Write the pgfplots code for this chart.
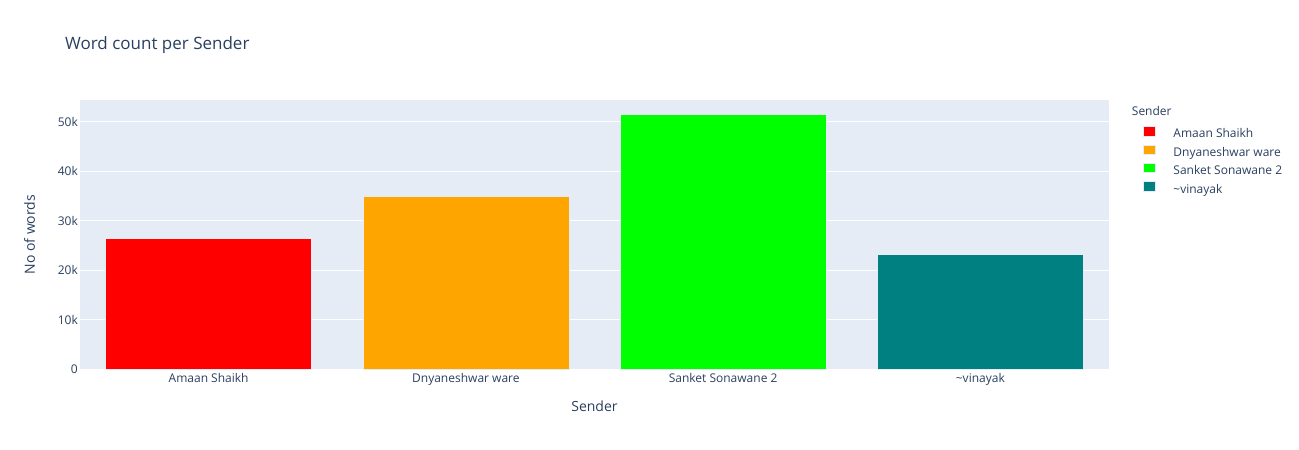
\documentclass[border=0pt]{standalone}
\usepackage{pgfplots}
\pgfplotsset{compat=1.18}
\usepackage{fontspec}
\setmainfont{Open Sans}
\definecolor{txt}{HTML}{2A3F5F}
\definecolor{bg}{HTML}{E5ECF6}
\definecolor{cA}{HTML}{FF0000}
\definecolor{cB}{HTML}{FFA500}
\definecolor{cC}{HTML}{00FF00}
\definecolor{cD}{HTML}{008080}
\begin{document}
\begin{tikzpicture}
\useasboundingbox (0,0) rectangle (1299bp,450bp);
\begin{axis}[
  at={(80bp,80.7bp)}, anchor=south west,
  scale only axis, width=1029bp, height=269.3bp,
  xmin=-0.5, xmax=3.5, ymin=0, ymax=54400,
  scaled y ticks=false,
  axis background/.style={fill=bg},
  axis line style={draw=none},
  major tick length=0pt,
  ymajorgrids, grid style={white, line width=1bp},
  xtick={0,1,2,3},
  xticklabels={Amaan Shaikh, Dnyaneshwar ware, Sanket Sonawane 2, \textasciitilde vinayak},
  ytick={0,10000,20000,30000,40000,50000},
  yticklabels={0,10k,20k,30k,40k,50k},
  ticklabel style={font=\fontsize{12bp}{14bp}\selectfont, text=txt, inner sep=0pt},
  xticklabel style={anchor=base, yshift=-13.5bp},
  yticklabel style={anchor=east, xshift=-2bp},
  xlabel={Sender}, ylabel={No of words},
  label style={font=\fontsize{14bp}{17bp}\selectfont, text=txt, inner sep=0pt},
  xlabel style={at={(axis description cs:0.5,-0.1375)}, anchor=center},
  ylabel style={at={(axis description cs:-0.0491,0.5)}, anchor=center},
  ybar, bar width=0.8,
  legend style={at={(axis description cs:1.0333,0.9033)}, anchor=north west,
    draw=none, fill=none, inner sep=0pt, row sep=3.6bp, column sep=17.5bp,
    font=\fontsize{12bp}{14bp}\selectfont, text=txt,
    nodes={inner sep=0pt, text height=9bp, text depth=3bp}},
  legend cell align=left,
  legend image code/.code={\fill[#1] (0bp,-1bp) rectangle (12bp,8.5bp);},
]
\addplot[fill=cA, draw=bg, line width=0.5bp, bar shift=0pt] coordinates {(0,26500)};
\addlegendentry{Amaan Shaikh}
\addplot[fill=cB, draw=bg, line width=0.5bp, bar shift=0pt] coordinates {(1,34900)};
\addlegendentry{Dnyaneshwar ware}
\addplot[fill=cC, draw=bg, line width=0.5bp, bar shift=0pt] coordinates {(2,51600)};
\addlegendentry{Sanket Sonawane 2}
\addplot[fill=cD, draw=bg, line width=0.5bp, bar shift=0pt] coordinates {(3,23200)};
\addlegendentry{\textasciitilde vinayak}
\end{axis}
\node[anchor=base west, inner sep=0pt, font=\fontsize{12bp}{14bp}\selectfont, text=txt] at (1131.7bp,334bp) {Sender};
\node[anchor=base west, inner sep=0pt, font=\fontsize{17bp}{20bp}\selectfont, text=txt] at (65bp,400bp) {Word count per Sender};
\end{tikzpicture}
\end{document}
